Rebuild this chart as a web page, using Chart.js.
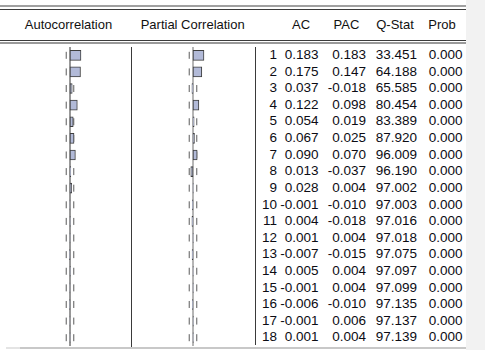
<!DOCTYPE html>
<html>
<head>
<meta charset="utf-8">
<script src="https://cdn.jsdelivr.net/npm/chart.js@4"></script>
<style>
  html, body { margin: 0; padding: 0; background: #fff; }
  #wrap { position: relative; width: 485px; height: 362px; overflow: hidden; font-family: "Liberation Sans", Arial, sans-serif; font-size: 13.5px; color: #0c0c14; }
  .hl { position: absolute; left: 0; width: 466px; height: 1px; }
  .vl { position: absolute; width: 1px; background: #3a3a3a; }
  .hdr { position: absolute; top: 16px; height: 17px; line-height: 17px; white-space: nowrap; transform: translateX(-50%); color: #111; font-size: 13px; }
  .cell { position: absolute; white-space: nowrap; text-align: right; }
  canvas { position: absolute; }
</style>
</head>
<body>
<div id="wrap">
  <div style="position:absolute;left:466px;top:0;width:19px;height:350px;background:#f2f2f2;"></div>
  <div class="hl" style="top:5px;background:#a0a0a0;height:1.5px;"></div>
  <div class="hl" style="top:9px;background:#3c3c3c;"></div>
  <div class="hl" style="top:40px;background:#3c3c3c;"></div>
  <div class="hl" style="top:42px;background:#9a9a9a;height:1.5px;"></div>
  <div style="position:absolute;left:6px;top:347px;width:14px;height:1.5px;background:#e4e4e4;"></div>
  <div style="position:absolute;left:20px;top:347px;width:446px;height:1.5px;background:#c8c8c8;"></div>
  <div class="vl" style="left:131px;top:47px;height:300px;"></div>
  <div class="vl" style="left:255px;top:47px;height:298px;"></div>
  <div class="hdr" style="left:68.5px;">Autocorrelation</div>
  <div class="hdr" style="left:192.7px;">Partial Correlation</div>
  <div class="hdr" style="left:301px;">AC</div>
  <div class="hdr" style="left:346.5px;">PAC</div>
  <div class="hdr" style="left:395px;">Q-Stat</div>
  <div class="hdr" style="left:442px;">Prob</div>
  <canvas id="acChart" width="120" height="299" style="left:9.5px;top:47px;"></canvas>
  <canvas id="pacChart" width="120" height="299" style="left:132.5px;top:47px;"></canvas>
  <div id="rows"></div>
</div>
<script>
const lags = [1,2,3,4,5,6,7,8,9,10,11,12,13,14,15,16,17,18];
const acValues = [0.183,0.175,0.037,0.122,0.054,0.067,0.090,0.013,0.028,-0.001,0.004,0.001,-0.007,0.005,-0.001,-0.006,-0.001,0.001];
const pacValues = [0.183,0.147,-0.018,0.098,0.019,0.025,0.070,-0.037,0.004,-0.010,-0.018,0.004,-0.015,0.004,0.004,-0.010,0.006,0.004];
const qStats = [33.451,64.188,65.585,80.454,83.389,87.920,96.009,96.190,97.002,97.003,97.016,97.018,97.075,97.097,97.099,97.135,97.137,97.139];
const probs = [0.000,0.000,0.000,0.000,0.000,0.000,0.000,0.000,0.000,0.000,0.000,0.000,0.000,0.000,0.000,0.000,0.000,0.000];
const bound = 0.063;

function guidePlugin(zeroColor, zeroWidth) {
  return {
    id: 'guides',
    beforeDatasetsDraw(chart) {
      const ctx = chart.ctx, x = chart.scales.x, y = chart.scales.y;
      const z = x.getPixelForValue(0);
      ctx.save();
      ctx.strokeStyle = zeroColor;
      ctx.lineWidth = zeroWidth;
      ctx.beginPath();
      ctx.moveTo(z, 0);
      ctx.lineTo(z, chart.height);
      ctx.stroke();
      ctx.strokeStyle = '#5a5a5a';
      ctx.lineWidth = 1;
      const bl = x.getPixelForValue(-bound), br = x.getPixelForValue(bound);
      for (let i = 0; i < lags.length; i++) {
        const cy = y.getPixelForValue(i);
        ctx.beginPath();
        ctx.moveTo(bl, cy - 3.5); ctx.lineTo(bl, cy + 3.5);
        ctx.moveTo(br, cy - 3.5); ctx.lineTo(br, cy + 3.5);
        ctx.stroke();
      }
      ctx.restore();
    }
  };
}

function makeChart(id, values, zeroColor, zeroWidth) {
  return new Chart(document.getElementById(id), {
    type: 'bar',
    data: {
      labels: lags.map(String),
      datasets: [{
        data: values,
        backgroundColor: '#b2bad8',
        borderColor: '#3e3e3e',
        borderWidth: 1,
        borderSkipped: false,
        barThickness: 10
      }]
    },
    options: {
      indexAxis: 'y',
      responsive: false,
      animation: false,
      layout: { padding: 0 },
      scales: {
        x: { min: -1, max: 1, display: false },
        y: { display: false }
      },
      plugins: { legend: { display: false }, tooltip: { enabled: false } }
    },
    plugins: [guidePlugin(zeroColor, zeroWidth)]
  });
}

makeChart('acChart', acValues, '#333333', 1);
makeChart('pacChart', pacValues, '#a4a4a4', 1.6);

const rowsEl = document.getElementById('rows');
const rowTop = 47, rowH = 299 / lags.length;
const cols = [
  { right: 277, fmt: i => String(lags[i]) },
  { right: 318.5, fmt: i => acValues[i].toFixed(3) },
  { right: 366, fmt: i => pacValues[i].toFixed(3) },
  { right: 417, fmt: i => qStats[i].toFixed(3) },
  { right: 462.5, fmt: i => probs[i].toFixed(3) }
];
for (let i = 0; i < lags.length; i++) {
  for (const c of cols) {
    const d = document.createElement('div');
    d.className = 'cell';
    d.style.top = (rowTop + i * rowH) + 'px';
    d.style.height = rowH + 'px';
    d.style.lineHeight = rowH + 'px';
    d.style.right = (485 - c.right) + 'px';
    d.textContent = c.fmt(i);
    rowsEl.appendChild(d);
  }
}
</script>
</body>
</html>
